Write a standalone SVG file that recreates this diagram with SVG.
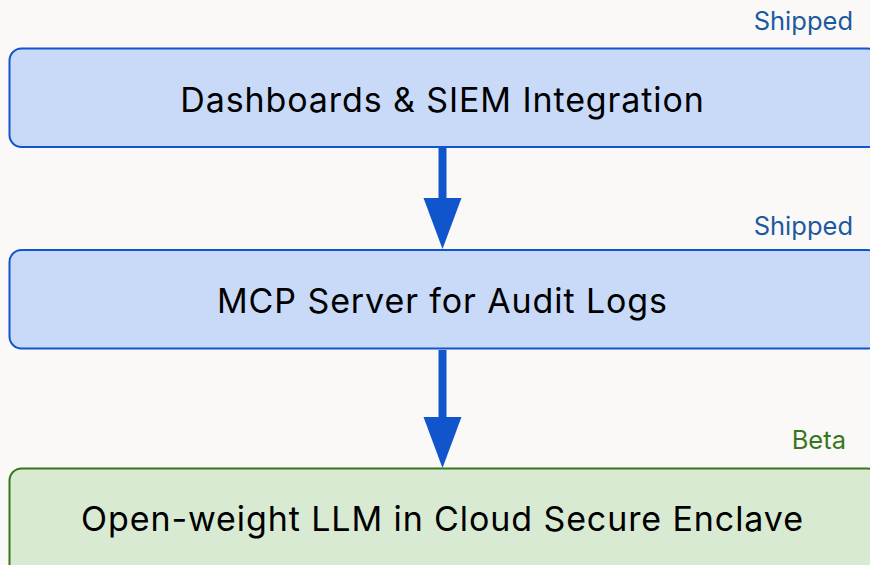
<svg xmlns="http://www.w3.org/2000/svg" width="870" height="565" viewBox="0 0 870 565">
<style>
.bg{fill:#faf9f8}
.blue{fill:#c9daf8;stroke:#1155cc;stroke-width:2}
.green{fill:#d9ead3;stroke:#38761d;stroke-width:2}
.lbl{font-family:Inter,"Noto Sans",sans-serif;font-size:34px;letter-spacing:0.9px;fill:#000;text-anchor:middle}
.tag{font-family:Inter,"Noto Sans",sans-serif;font-size:25.5px;text-anchor:end}
.shaft{stroke:#1155cc;stroke-width:8;fill:none}
.head{fill:#1155cc}
</style>
<rect class="bg" x="0" y="0" width="870" height="565"/>
<g id="connectors">
<line class="shaft" x1="442.5" y1="148" x2="442.5" y2="200"/>
<polygon class="head" points="423.5,198 461.5,198 442.5,249"/>
<line class="shaft" x1="442.5" y1="350" x2="442.5" y2="419"/>
<polygon class="head" points="423.5,417 461.5,417 442.5,468"/>
</g>
<g id="node1">
<text class="tag" x="853" y="30" fill="#1c5aa0">Shipped</text>
<rect class="blue" x="9.5" y="48.5" width="870" height="98.5" rx="12"/>
<text class="lbl" x="442.5" y="112">Dashboards &amp; SIEM Integration</text>
</g>
<g id="node2">
<text class="tag" x="853" y="235" fill="#1c5aa0">Shipped</text>
<rect class="blue" x="9.5" y="250" width="870" height="98.5" rx="12"/>
<text class="lbl" x="442.5" y="313">MCP Server for Audit Logs</text>
</g>
<g id="node3">
<text class="tag" x="846" y="449" fill="#38761d">Beta</text>
<rect class="green" x="9.5" y="468.5" width="870" height="110" rx="12"/>
<text class="lbl" x="442.5" y="531">Open-weight LLM in Cloud Secure Enclave</text>
</g>
</svg>
